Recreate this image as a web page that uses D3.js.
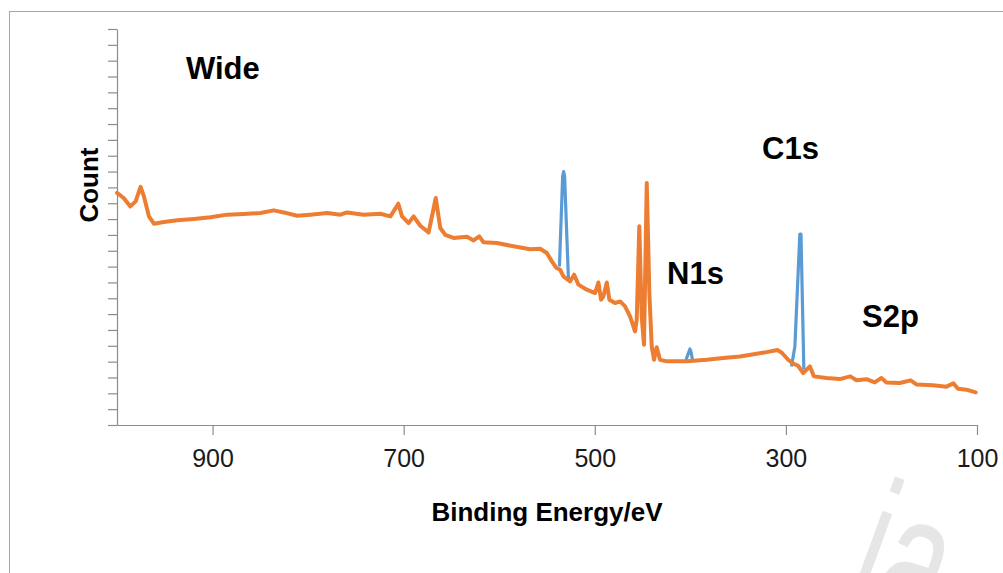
<!DOCTYPE html>
<html>
<head>
<meta charset="utf-8">
<script src="https://cdn.jsdelivr.net/npm/d3@7/dist/d3.min.js"></script>
<style>
  html, body { margin: 0; padding: 0; background: #fff; }
  #chart { width: 1003px; height: 573px; overflow: hidden; }
  text { font-family: "Liberation Sans", Arial, sans-serif; }
</style>
</head>
<body>
<div id="chart"></div>
<script>
// wide scan (orange), binding energy in eV and counts in arbitrary units
const wideEnergy = [1000, 993, 986, 980.5, 975.3, 971.8, 966.6, 961.4, 950.9, 936.9, 919.5, 902.1,
  884.6, 867.3, 849.8, 835.9, 825.5, 811.5, 797.6, 780.1, 766.2, 759.2, 741.9, 724.4, 713.9,
  705.6, 701.7, 694.8, 689.6, 682.6, 673.9, 666.4, 661.7, 656.5, 647.8, 633.8, 626.9, 620.9,
  616.4, 602.4, 585.1, 567.6, 557.2, 550.2, 544.9, 540.4, 536.3, 532.8, 525.8, 521.6, 517.1,
  508.3, 499.7, 496.2, 493.4, 491.0, 487.4, 484.7, 478.8, 473.5, 468.3, 463.1, 457.9, 456.1,
  453.4, 450.9, 448.5, 445.6, 442.9, 440.4, 438.0, 435.2, 431.7, 424.7, 417.8, 403.8, 382.9,
  365.6, 348.1, 330.6, 320.2, 308.9, 304.2, 297.6, 292.4, 287.2, 281.9, 274.9, 270.7, 257.5,
  243.6, 232.6, 226.1, 215.7, 207.0, 200.0, 194.8, 180.9, 169.4, 163.4, 146.1, 132.0, 124.7,
  119.9, 111.1, 101.4];
const wideCount = [14.65, 14.33, 13.80, 14.12, 15.03, 14.43, 13.17, 12.71, 12.82, 12.92, 13.01, 13.11,
  13.28, 13.32, 13.38, 13.55, 13.42, 13.21, 13.28, 13.38, 13.28, 13.42, 13.28, 13.34, 13.17,
  13.97, 13.17, 12.75, 13.17, 12.58, 12.16, 14.33, 12.44, 12.01, 11.81, 11.89, 11.65, 11.91,
  11.53, 11.49, 11.28, 11.10, 11.13, 10.86, 10.33, 9.93, 9.80, 9.38, 9.07, 9.49, 8.86,
  8.54, 8.33, 9.00, 7.91, 8.12, 9.00, 7.91, 7.70, 7.80, 7.49, 6.86, 5.91, 6.65,
  12.54, 6.86, 5.07, 15.28, 8.35, 4.96, 4.12, 4.91, 4.12, 4.02, 4.02, 4.03, 4.12,
  4.23, 4.33, 4.50, 4.60, 4.73, 4.56, 4.12, 3.87, 3.74, 3.28, 3.70, 3.07, 2.97,
  2.90, 3.07, 2.83, 2.89, 2.69, 2.97, 2.69, 2.65, 2.82, 2.56, 2.51, 2.42, 2.63,
  2.29, 2.23, 2.06];

// second sample (blue), only the peaks show above the wide scan
const o1sEnergy = [537.0, 533.6, 532.6, 531.6, 527.6];
const o1sCount = [10.01, 15.7, 16.0, 15.7, 9.28];
const n1sEnergy = [404.6, 401.6, 400.4, 399.2, 397.6];
const n1sCount = [4.10, 4.6, 4.80, 4.6, 4.05];
const c1sEnergy = [294.1, 290.6, 285.4, 284.2, 281.2];
const c1sCount = [3.70, 4.96, 12.05, 12.05, 3.50];

const xTicks = [900, 700, 500, 300, 100];
const yTicks = d3.range(0, 26);
const peakNames = ["Wide", "C1s", "N1s", "S2p"];

const width = 1003;
const height = 573;
const margin = { top: 29, right: 26, bottom: 148, left: 117 };
const axisColor = "#8c8c8c";
const orange = "#ed7d31";
const blue = "#5b9bd5";

const svg = d3.select("#chart")
  .append("svg")
  .attr("width", width)
  .attr("height", height);

svg.append("rect")
  .attr("width", width)
  .attr("height", height)
  .attr("fill", "#fff");

// outer frame of the chart area
svg.append("rect")
  .attr("x", 9.5)
  .attr("y", 11.5)
  .attr("width", width)
  .attr("height", height)
  .attr("fill", "none")
  .attr("stroke", "#a6a6a6");

// faint watermark in the corner
svg.append("text")
  .attr("transform", "translate(842,600) rotate(20) scale(0.62,1)")
  .attr("font-size", 185)
  .attr("fill", "#e6e6e6")
  .text("ia");

const x = d3.scaleLinear()
  .domain([1000, 100])
  .range([margin.left, width - margin.right]);
const y = d3.scaleLinear()
  .domain([0, 25])
  .range([height - margin.bottom, margin.top]);

const xAxis = svg.append("g")
  .attr("transform", `translate(0,${height - margin.bottom})`)
  .call(d3.axisBottom(x).tickValues(xTicks).tickSize(10).tickSizeOuter(0));
xAxis.selectAll("path, line").attr("stroke", axisColor).attr("stroke-width", 1.2);
xAxis.selectAll("text")
  .attr("y", 42)
  .attr("dy", null)
  .attr("font-size", 25)
  .attr("font-family", "Liberation Sans, Arial, sans-serif")
  .attr("fill", "#1a1a1a");

const yAxis = svg.append("g")
  .attr("transform", `translate(${margin.left},0)`)
  .call(d3.axisLeft(y).tickValues(yTicks).tickSize(9).tickSizeOuter(0).tickFormat(""));
yAxis.selectAll("path, line").attr("stroke", axisColor).attr("stroke-width", 1.2);

const line = d3.line()
  .x((d) => x(d[0]))
  .y((d) => y(d[1]));

const zip = (a, b) => a.map((v, i) => [v, b[i]]);

const bluePeaks = [zip(o1sEnergy, o1sCount), zip(n1sEnergy, n1sCount), zip(c1sEnergy, c1sCount)];

svg.append("g")
  .selectAll("path")
  .data(bluePeaks)
  .enter()
  .append("path")
  .attr("d", line)
  .attr("fill", "none")
  .attr("stroke", blue)
  .attr("stroke-width", 3.2)
  .attr("stroke-linejoin", "round");

svg.append("path")
  .datum(zip(wideEnergy, wideCount))
  .attr("d", line)
  .attr("fill", "none")
  .attr("stroke", orange)
  .attr("stroke-width", 4)
  .attr("stroke-linejoin", "round")
  .attr("stroke-linecap", "round");

// peak labels
const labelPos = [[186, 79], [762, 159], [667, 284], [862, 327]];
svg.append("g")
  .selectAll("text")
  .data(peakNames)
  .enter()
  .append("text")
  .attr("x", (d, i) => labelPos[i][0])
  .attr("y", (d, i) => labelPos[i][1])
  .attr("font-size", 31)
  .attr("font-weight", "bold")
  .attr("fill", "#000")
  .text((d) => d);

// axis titles
svg.append("text")
  .attr("transform", "translate(98,185) rotate(-90)")
  .attr("text-anchor", "middle")
  .attr("font-size", 26)
  .attr("font-weight", "bold")
  .text("Count");

svg.append("text")
  .attr("x", (x.range()[0] + x.range()[1]) / 2)
  .attr("y", 521)
  .attr("text-anchor", "middle")
  .attr("font-size", 26)
  .attr("font-weight", "bold")
  .text("Binding Energy/eV");
</script>
</body>
</html>
